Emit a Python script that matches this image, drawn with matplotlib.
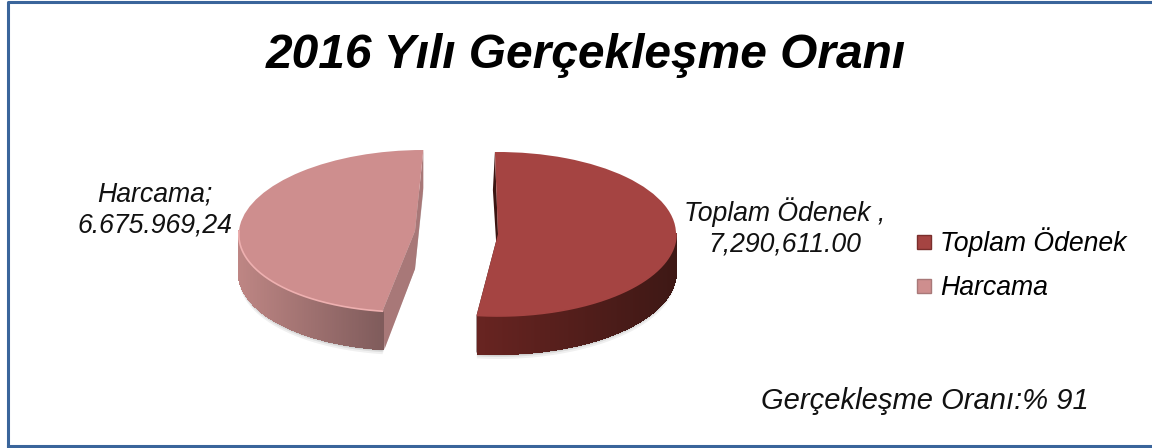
import numpy as np
import matplotlib
matplotlib.use('Agg')
import matplotlib.pyplot as plt
from matplotlib.lines import Line2D
from matplotlib.patches import Polygon, Wedge
from matplotlib.transforms import Affine2D

plt.rcParams['font.family'] = ['Liberation Sans', 'DejaVu Sans']

# data
categories = ['Toplam Ödenek', 'Harcama']
values = [7290611.00, 6675969.24]
data_labels = ['Toplam Ödenek ,\n7,290,611.00', 'Harcama;\n6.675.969,24']
title = '2016 Yılı Gerçekleşme Oranı'
note = 'Gerçekleşme Oranı:% 91'

top_colors = ['#a54442', '#ce8e8e']
rim_colors = ['#a54442', '#eeb0b0']
side_left = [np.array([104, 36, 33]), np.array([190, 134, 132])]
side_right = [np.array([62, 24, 21]), np.array([128, 92, 92])]
face_colors = ['#3c1512', '#a87878']

# the two exploded slices, in picture pixels
centers = [(498, 234), (415, 231)]
start_angles = [91, -98]
shears = [0.0, -0.1]
radii_x = [178, 176]
radii_y = [82, 81]
depth = 38

fig = plt.figure(figsize=(11.52, 4.48), dpi=100)
ax = fig.add_axes([0, 0, 1, 1])
ax.set_xlim(0, 1152)
ax.set_ylim(448, 0)
ax.axis('off')

# border of the chart area
ax.plot([8, 8, 1160], [447, 2, 2], color='#3a659b', lw=2.2, solid_capstyle='butt')
ax.plot([8, 1160], [446, 446], color='#3a659b', lw=2.2)

shares = np.array(values) / sum(values) * 360
thetas = [(start_angles[0] - shares[0], start_angles[0]),
          (start_angles[1] - shares[1], start_angles[1])]


def ell(i, a, dy=0):
    c = centers[i]
    a = np.radians(a)
    y = -radii_y[i] * np.sin(a)
    return c[0] + radii_x[i] * np.cos(a) + shears[i] * y, c[1] + y + dy


for i in range(2):
    c = centers[i]
    t1, t2 = thetas[i]
    tf = Affine2D(np.array([[radii_x[i], -radii_y[i] * shears[i], c[0]],
                            [0, -radii_y[i], c[1]], [0, 0, 1]])) + ax.transData

    # soft shadow under the wall
    angs = np.linspace(t1, t2, 200)
    for grow, alpha in [(5, 0.06), (3, 0.08), (1.5, 0.1)]:
        xs, ys = ell(i, angs, depth + grow)
        ax.add_patch(Polygon(np.column_stack([np.append(xs, c[0]), np.append(ys, c[1] + depth)]),
                             closed=True, fc='black', ec='none', alpha=alpha, zorder=1))

    # cut faces between the centre and each slice corner
    for a in (t1, t2):
        x0, y0 = ell(i, a)
        off = -2 if i == 0 else 2
        ax.add_patch(Polygon([(c[0], c[1]), (x0, y0), (x0 + off * (a == t2), y0 + depth),
                              (c[0], c[1] + depth)],
                             closed=True, fc=face_colors[i], ec='none', zorder=2))

    # outer wall, one thin strip per step along the front of the arc
    wall = np.arange(-180, 0.01, 0.5)
    wall = wall + 360 * (wall + 360 <= t2)
    wall = np.sort(wall[(wall >= t1) & (wall <= t2)])
    xs_all, _ = ell(i, wall)
    for a0, a1 in zip(wall[:-1], wall[1:]):
        xa, ya = ell(i, a0)
        xb, yb = ell(i, a1)
        f = (0.5 * (xa + xb) - xs_all.min()) / max(xs_all.max() - xs_all.min(), 1)
        col = (side_left[i] + (side_right[i] - side_left[i]) * f) / 255
        ax.add_patch(Polygon([(xa, ya), (xb, yb), (xb, yb + depth), (xa, ya + depth)],
                             closed=True, fc=col, ec=col, lw=0.8, antialiased=False, zorder=3))

    # top surface
    ax.add_patch(Wedge((0, 0), 1, t1, t2, fc=top_colors[i], ec='none', transform=tf, zorder=4))
    xs, ys = ell(i, wall)
    ax.plot(xs, ys, color=rim_colors[i], lw=1.2, zorder=5)

ax.text(586, 56, title, fontsize=34.5, style='italic', weight='bold', ha='center', va='center', color='black')
ax.text(232, 210, data_labels[1], fontsize=19.2, style='italic', ha='right', va='center',
        multialignment='center', color='#111111', linespacing=1.22)
ax.text(785, 227, data_labels[0], fontsize=19.2, style='italic', ha='center', va='center',
        multialignment='center', color='#111111', linespacing=1.22)
ax.text(925, 401, note, fontsize=21, style='italic', ha='center', va='center', color='#111111')

handles = [Line2D([], [], ls='', marker='s', ms=10, mfc=top_colors[k],
                  mec=['#7a2e2c', '#a87878'][k], mew=1) for k in range(2)]
leg = ax.legend(handles, categories, loc='upper left', bbox_to_anchor=(908 / 1152, 1 - 227 / 448),
                frameon=False, prop={'size': 19.2, 'style': 'italic'}, labelspacing=0.68,
                handletextpad=0.0, borderpad=0, borderaxespad=0, handlelength=1.2)

fig.savefig('out.png', dpi=100)
